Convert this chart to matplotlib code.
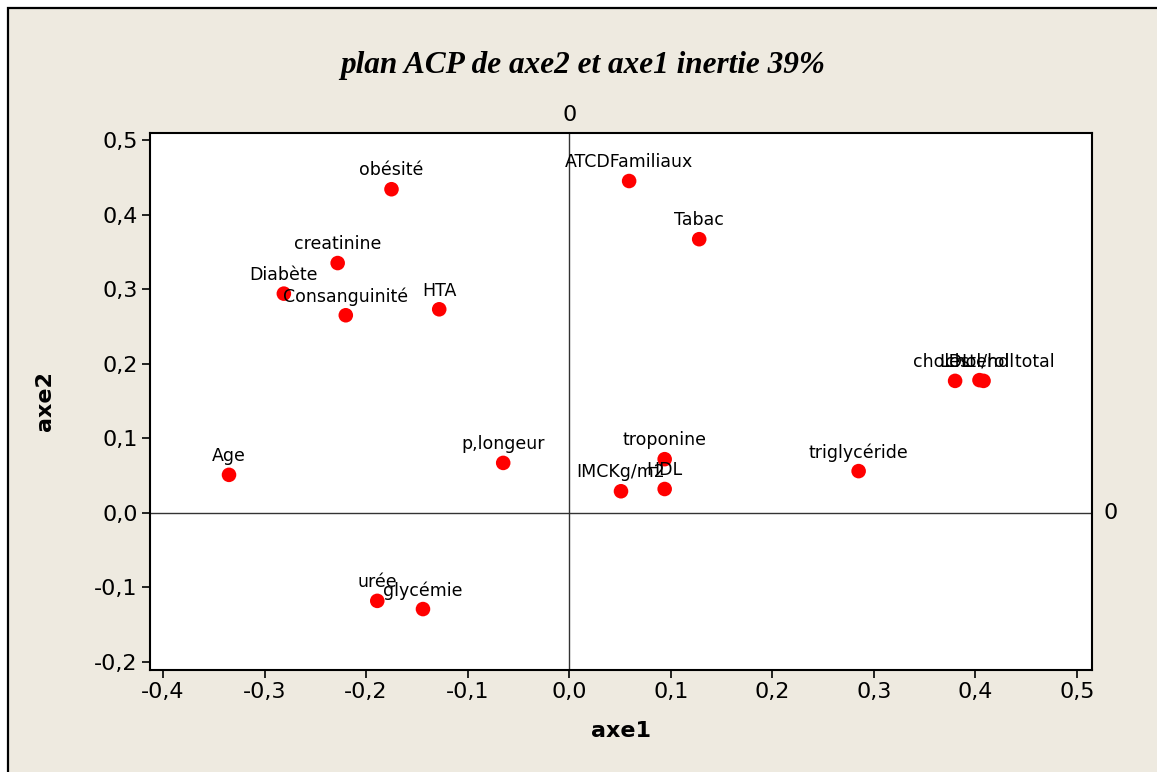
import matplotlib
matplotlib.use("Agg")
import matplotlib.pyplot as plt
from matplotlib.patches import Rectangle

labels = ["obésité", "ATCDFamiliaux", "Tabac", "creatinine", "Diabète",
          "Consanguinité", "HTA", "LDL", "chol/hdl", "cholesterol total",
          "Age", "p,longeur", "troponine", "IMCKg/m2", "HDL",
          "triglycéride", "urée", "glycémie"]
axe1 = [-0.175, 0.059, 0.128, -0.228, -0.281,
        -0.220, -0.128, 0.380, 0.404, 0.408,
        -0.335, -0.065, 0.094, 0.051, 0.094,
        0.285, -0.189, -0.144]
axe2 = [0.434, 0.445, 0.367, 0.335, 0.294,
        0.265, 0.273, 0.177, 0.178, 0.177,
        0.051, 0.067, 0.072, 0.029, 0.032,
        0.056, -0.118, -0.129]
xticks = [-0.4, -0.3, -0.2, -0.1, 0.0, 0.1, 0.2, 0.3, 0.4, 0.5]
yticks = [-0.2, -0.1, 0.0, 0.1, 0.2, 0.3, 0.4, 0.5]

W, H = 1157, 772
fig = plt.figure(figsize=(W / 100, H / 100), dpi=100, facecolor="white")
bg = "#EEEAE0"
frame = Rectangle((8 / W, -0.1), 1.3, 1 - 8 / H + 0.1,
                  transform=fig.transFigure, facecolor=bg,
                  edgecolor="black", linewidth=1.6, zorder=-10)
fig.add_artist(frame)

ax = fig.add_axes([150 / W, 1 - 670 / H, (1092 - 150) / W, (670 - 133) / H])
ax.set_zorder(1)
ax.set_facecolor("white")
ax.set_xlim(-0.4128, 0.5148)
ax.set_ylim(-0.2107, 0.5094)

ax.axvline(0, color="#333333", lw=1.0, zorder=1)
ax.axhline(0, color="#333333", lw=1.0, zorder=1)

ax.scatter(axe1, axe2, s=110, color="#FF0000", edgecolors="none", zorder=3)
for lab, x, y in zip(labels, axe1, axe2):
    ax.annotate(lab, (x, y), xytext=(0, 13.5), textcoords="offset points",
                ha="center", va="center", fontsize=12.5, color="black",
                family="DejaVu Sans", zorder=4)

def fmt(v):
    return f"{v:.1f}".replace(".", ",")

ax.set_xticks(xticks)
ax.set_xticklabels([fmt(v) for v in xticks])
ax.set_yticks(yticks)
ax.set_yticklabels([fmt(v) for v in yticks])
ax.tick_params(axis="both", direction="out", length=6, width=1.2,
               labelsize=16, pad=3, colors="black")
for sp in ax.spines.values():
    sp.set_linewidth(1.5)
    sp.set_color("black")

ax.text(0, 1.015, "0", transform=ax.get_xaxis_transform(), ha="center",
        va="bottom", fontsize=16)
ax.text(1.012, 0, "0", transform=ax.get_yaxis_transform(), ha="left",
        va="center", fontsize=16)

ax.set_xlabel("axe1", fontsize=16, fontweight="bold", labelpad=13)
ax.set_ylabel("axe2", fontsize=16, fontweight="bold", labelpad=28)

fig.text(583 / W, 1 - 65 / H, "plan ACP de axe2 et axe1 inertie 39%",
         ha="center", va="center", fontsize=22.5, fontweight="bold",
         fontstyle="italic", family="Liberation Serif")

fig.savefig("out.png", dpi=100, facecolor=fig.get_facecolor())
